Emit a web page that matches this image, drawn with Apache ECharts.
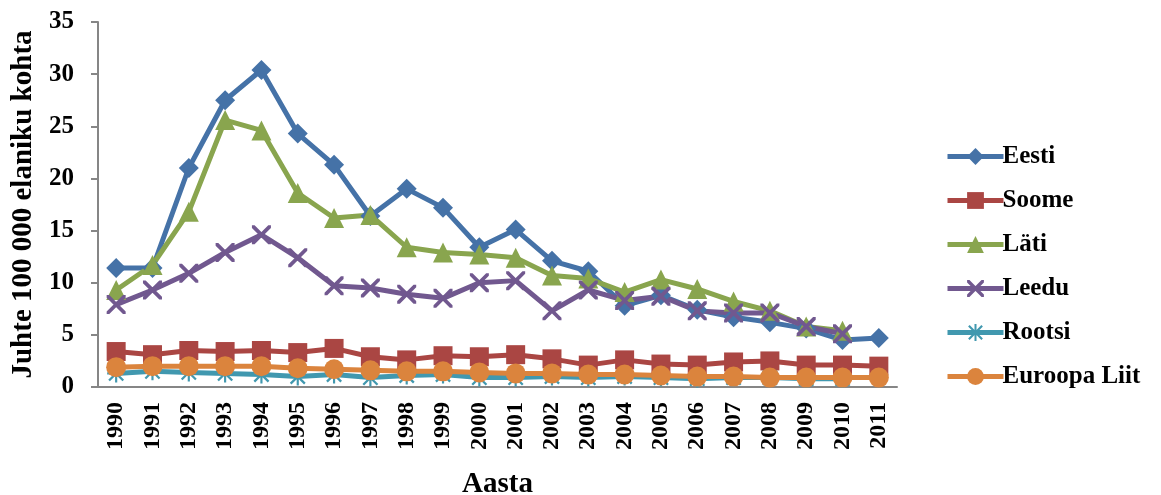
<!DOCTYPE html>
<html>
<head>
<meta charset="utf-8">
<script src="https://cdn.jsdelivr.net/npm/echarts@6/dist/echarts.min.js"></script>
<style>
  html, body { margin: 0; padding: 0; background: #fff; }
  #chart { width: 1161px; height: 495px; }
</style>
</head>
<body>
<div id="chart"></div>
<script>
const years = ['1990', '1991', '1992', '1993', '1994', '1995', '1996', '1997', '1998', '1999', '2000',
  '2001', '2002', '2003', '2004', '2005', '2006', '2007', '2008', '2009', '2010', '2011']

const eesti = [11.4, 11.4, 21.0, 27.5, 30.4, 24.3, 21.3, 16.4, 19.0, 17.2, 13.4, 15.1, 12.1, 11.1, 7.8, 8.8, 7.4, 6.7, 6.2, 5.6, 4.5, 4.7]
const soome = [3.4, 3.1, 3.5, 3.4, 3.5, 3.3, 3.7, 2.9, 2.6, 3.0, 2.9, 3.1, 2.7, 2.1, 2.6, 2.2, 2.1, 2.4, 2.5, 2.1, 2.1, 2.0]
const lati = [9.3, 11.7, 16.8, 25.6, 24.6, 18.6, 16.2, 16.5, 13.4, 12.9, 12.7, 12.4, 10.7, 10.4, 9.1, 10.3, 9.4, 8.2, 7.3, 5.8, 5.4, null]
const leedu = [7.9, 9.3, 10.9, 12.9, 14.6, 12.4, 9.7, 9.5, 8.9, 8.5, 10.0, 10.2, 7.3, 9.3, 8.3, 8.7, 7.3, 7.1, 7.1, 5.8, 5.1, null]
const rootsi = [1.3, 1.5, 1.4, 1.3, 1.2, 1.0, 1.2, 0.9, 1.1, 1.2, 0.9, 0.9, 1.0, 0.9, 1.0, 0.9, 0.8, 0.9, 0.9, 0.8, 0.8, null]
const euroopa = [1.9, 2.0, 2.0, 2.0, 2.0, 1.8, 1.7, 1.6, 1.5, 1.5, 1.4, 1.3, 1.3, 1.2, 1.2, 1.1, 1.0, 1.0, 0.9, 0.9, 0.9, 0.9]

const yTicks = [0, 5, 10, 15, 20, 25, 30, 35]

// thin-stroke marks drawn as filled paths
const crossPath = 'path://M0,0 L1.4,0 L10,8.6 L10,10 L8.6,10 L0,1.4 Z M8.6,0 L10,0 L10,1.4 L1.4,10 L0,10 L0,8.6 Z'
const starPath = 'path://M4.4,0 L5.6,0 L5.6,10 L4.4,10 Z M0,4.4 L10,4.4 L10,5.6 L0,5.6 Z ' +
  'M0.6,1.5 L1.5,0.6 L9.4,8.5 L8.5,9.4 Z M8.5,0.6 L9.4,1.5 L1.5,9.4 L0.6,8.5 Z'

function makeLine(name, data, color, symbol, size) {
  return {
    name: name,
    type: 'line',
    data: data,
    symbol: symbol,
    symbolSize: size,
    showAllSymbol: true,
    lineStyle: { color: color, width: 5 },
    itemStyle: { color: color },
    animation: false
  }
}

const myChart = echarts.init(document.getElementById('chart'))
myChart.setOption({
  textStyle: { fontFamily: 'Liberation Serif' },
  grid: { left: 98, right: 264, top: 22, bottom: 108, outerBoundsMode: 'none' },
  legend: {
    orient: 'vertical',
    left: 940,
    top: 139,
    itemGap: 19,
    itemWidth: 56,
    itemHeight: 21,
    lineStyle: { width: 5 },
    textStyle: { fontSize: 25, fontWeight: 'bold', color: '#000', fontFamily: 'Liberation Serif', padding: [0, 0, 0, -6] },
    data: ['Eesti', 'Soome', 'Läti', 'Leedu', 'Rootsi', 'Euroopa Liit']
  },
  xAxis: {
    type: 'category',
    data: years,
    name: 'Aasta',
    nameLocation: 'middle',
    nameGap: 83,
    nameTextStyle: { fontSize: 29, fontWeight: 'bold', color: '#000' },
    axisLine: { lineStyle: { color: '#868686', width: 2 } },
    axisTick: { show: false },
    axisLabel: { rotate: 90, fontSize: 24, fontWeight: 'bold', color: '#000', interval: 0, margin: 15 }
  },
  yAxis: {
    type: 'value',
    min: 0,
    max: 35,
    interval: 5,
    name: 'Juhte 100 000 elaniku kohta',
    nameLocation: 'middle',
    nameGap: 59,
    nameTextStyle: { fontSize: 29, fontWeight: 'bold', color: '#000' },
    axisLine: { show: true, lineStyle: { color: '#868686', width: 2 } },
    axisTick: { show: true, length: 7, lineStyle: { color: '#868686', width: 2 } },
    splitLine: { show: false },
    axisLabel: {
      fontSize: 25, fontWeight: 'bold', color: '#000', margin: 24,
      formatter: function (v) { return yTicks.indexOf(v) >= 0 ? String(v) : '' }
    }
  },
  series: [
    makeLine('Eesti', eesti, '#4572A7', 'diamond', 20),
    makeLine('Soome', soome, '#AA4643', 'rect', 19),
    makeLine('Läti', lati, '#89A54E', 'triangle', 20),
    makeLine('Leedu', leedu, '#71588F', crossPath, 19),
    makeLine('Rootsi', rootsi, '#4198AF', starPath, 18),
    makeLine('Euroopa Liit', euroopa, '#DB843D', 'circle', 20)
  ]
})
</script>
</body>
</html>
